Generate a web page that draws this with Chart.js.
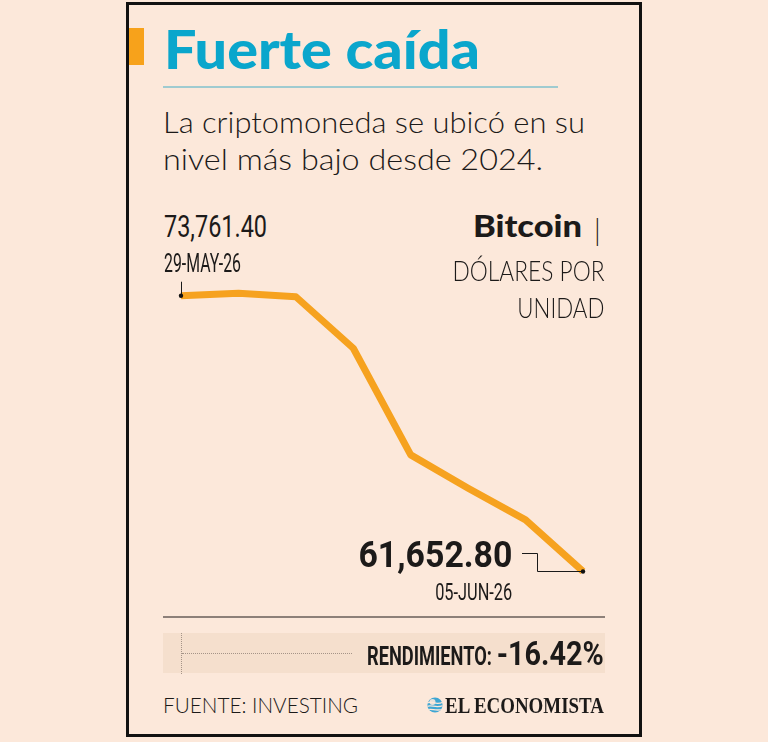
<!DOCTYPE html>
<html>
<head>
<meta charset="utf-8">
<script src="https://cdn.jsdelivr.net/npm/chart.js@4"></script>
<style>
  html,body{margin:0;padding:0;background:#fce8da;}
  #root{position:relative;width:768px;height:742px;overflow:hidden;background:#fce8da;}
  .t{position:absolute;left:0;top:0;white-space:nowrap;line-height:1;}
  .box{position:absolute;}
</style>
</head>
<body>
<div id="root">
  <div class="box" style="left:126px;top:2px;width:510px;height:729px;border:3px solid #111;"></div>
  <div class="box" style="left:129px;top:28px;width:15px;height:37px;background:#f7a21b;"></div>
  <div class="box" style="left:163px;top:86px;width:395px;height:2px;background:#9fcbd0;"></div>
  <div class="box" style="left:163px;top:616px;width:442px;height:2px;background:#8d8079;"></div>
  <div class="box" style="left:163px;top:633px;width:442px;height:40px;background:#f5dfcd;"></div>
  <div class="box" style="left:181px;top:633px;width:0;height:41px;border-left:1px dotted #a59488;"></div>
  <div class="box" style="left:182px;top:653px;width:170px;height:0;border-top:1px dotted #a59488;"></div>
  <svg class="box" style="left:427px;top:697px;" width="16" height="16" viewBox="0 0 16 16">
    <defs><clipPath id="cc"><circle cx="8" cy="8" r="7.6"/></clipPath></defs>
    <circle cx="8" cy="8" r="7.6" fill="#3ea6d3"/>
    <g clip-path="url(#cc)" fill="none" stroke="#fce8da" stroke-width="1.3">
      <path d="M0 6 C4 3, 9 9, 16 5"/>
      <path d="M0 9.5 C4 7, 9 12, 16 8.5"/>
      <path d="M0 13 C4 10.5, 9 15, 16 12"/>
    </g>
    <circle cx="5.5" cy="5" r="3" fill="#fce8da" opacity="0.9"/>
  </svg>
  <div class="box" style="left:170px;top:260px;width:430px;height:340px;">
    <canvas id="c"></canvas>
  </div>
</div>
<script>
// ---- data ----
const categories = ['29-MAY-26','30-MAY-26','31-MAY-26','01-JUN-26','02-JUN-26','03-JUN-26','04-JUN-26','05-JUN-26'];
const bitcoinUSD = [73761.40, 73866, 73717, 71454, 66773, 65311, 63921, 61652.80];
const yMin = 60400;
const yMax = 75330;

const fmt = v => v.toLocaleString('en-US',{minimumFractionDigits:2, maximumFractionDigits:2});
const first = bitcoinUSD[0], last = bitcoinUSD[bitcoinUSD.length-1];
const rendimiento = ((last/first - 1)*100).toFixed(2) + '%';

const root = document.getElementById('root');
function place(txt, o){
  const d = document.createElement('div');
  d.className = 't';
  d.style.font = `${o.w||400} ${o.s}px ${o.f}`;
  d.style.color = o.c || '#1c1a19';
  d.appendChild(document.createTextNode(txt));
  const m = document.createElement('span');
  m.style.cssText = 'display:inline-block;width:0;height:0;vertical-align:baseline';
  d.appendChild(m);
  root.appendChild(d);
  const nat = d.getBoundingClientRect().width;
  const base = m.offsetTop;
  d.style.top = (o.y - base) + 'px';
  const s = o.tw ? o.tw/nat : 1;
  if (o.align === 'right'){
    d.style.left = (o.x - nat) + 'px';
    d.style.transformOrigin = '100% 50%';
  } else {
    d.style.left = o.x + 'px';
    d.style.transformOrigin = '0 50%';
  }
  d.style.transform = `scaleX(${s})`;
  return d;
}
const LATO = '"Lato","Open Sans",sans-serif';
const ROB = 'Roboto,"Liberation Sans",sans-serif';

place('Fuerte caída', {x:164, y:69, s:54, w:900, f:LATO, tw:316, c:'#0aa6cc'});
place('La criptomoneda se ubicó en su', {x:163, y:133, s:29, w:300, f:LATO, tw:422});
place('nivel más bajo desde 2024.', {x:163, y:170, s:29, w:300, f:LATO, tw:380});

place(fmt(first), {x:164, y:237, s:31, w:400, f:ROB, tw:103});
place(categories[0], {x:164, y:272, s:25, w:400, f:ROB, tw:77});

place('Bitcoin', {x:582, y:237, s:30, w:900, f:LATO, tw:109, align:'right'});
place('|', {x:601, y:241, s:30, w:300, f:LATO, align:'right'});
place('DÓLARES POR', {x:604, y:281, s:27, w:300, f:LATO, tw:152, align:'right'});
place('UNIDAD', {x:604, y:318, s:27, w:300, f:LATO, tw:87, align:'right'});

place(fmt(last), {x:512, y:567, s:37, w:700, f:ROB, tw:154, align:'right'});
place(categories[categories.length-1], {x:512, y:600, s:24, w:400, f:ROB, tw:77, align:'right'});

place('RENDIMIENTO:', {x:367, y:665, s:26, w:700, f:ROB, tw:125});
place(rendimiento, {x:604, y:665, s:33, w:700, f:ROB, tw:107, align:'right'});

place('FUENTE: INVESTING', {x:163, y:713, s:22, w:300, f:LATO, tw:195});
place('EL ECONOMISTA', {x:445, y:713, s:23, w:700, f:'"Liberation Serif","DejaVu Serif",serif', tw:159});

const calloutPlugin = {
  id:'callouts',
  afterDatasetsDraw(chart){
    const pts = chart.getDatasetMeta(0).data;
    const p0 = pts[0], pN = pts[pts.length-1];
    const ctx = chart.ctx;
    ctx.save();
    ctx.strokeStyle = '#1a1a1a';
    ctx.lineWidth = 1;
    ctx.beginPath();
    ctx.moveTo(Math.round(p0.x)+0.5, p0.y - 14);
    ctx.lineTo(Math.round(p0.x)+0.5, p0.y);
    ctx.stroke();
    ctx.beginPath();
    const yb = Math.round(pN.y)+0.5;
    ctx.moveTo(pN.x, yb);
    ctx.lineTo(pN.x - 46 + 0.5, yb);
    ctx.lineTo(pN.x - 46 + 0.5, yb - 18);
    ctx.lineTo(pN.x - 61, yb - 18);
    ctx.stroke();
    ctx.fillStyle = '#111';
    [p0, pN].forEach(p=>{ctx.beginPath();ctx.arc(p.x,p.y,2.2,0,Math.PI*2);ctx.fill();});
    ctx.restore();
  }
};

new Chart(document.getElementById('c'), {
  type:'line',
  data:{
    labels: categories,
    datasets:[{
      data: bitcoinUSD,
      borderColor:'#f6a21f',
      borderWidth:7,
      borderJoinStyle:'round',
      borderCapStyle:'butt',
      tension:0,
      pointRadius:0,
      fill:false
    }]
  },
  options:{
    responsive:true,
    maintainAspectRatio:false,
    animation:false,
    events:[],
    layout:{padding:{left:11, right:17, top:0, bottom:0}},
    plugins:{legend:{display:false}, tooltip:{enabled:false}},
    scales:{
      x:{display:false, offset:false},
      y:{display:false, min:yMin, max:yMax}
    }
  },
  plugins:[calloutPlugin]
});
</script>
</body>
</html>
